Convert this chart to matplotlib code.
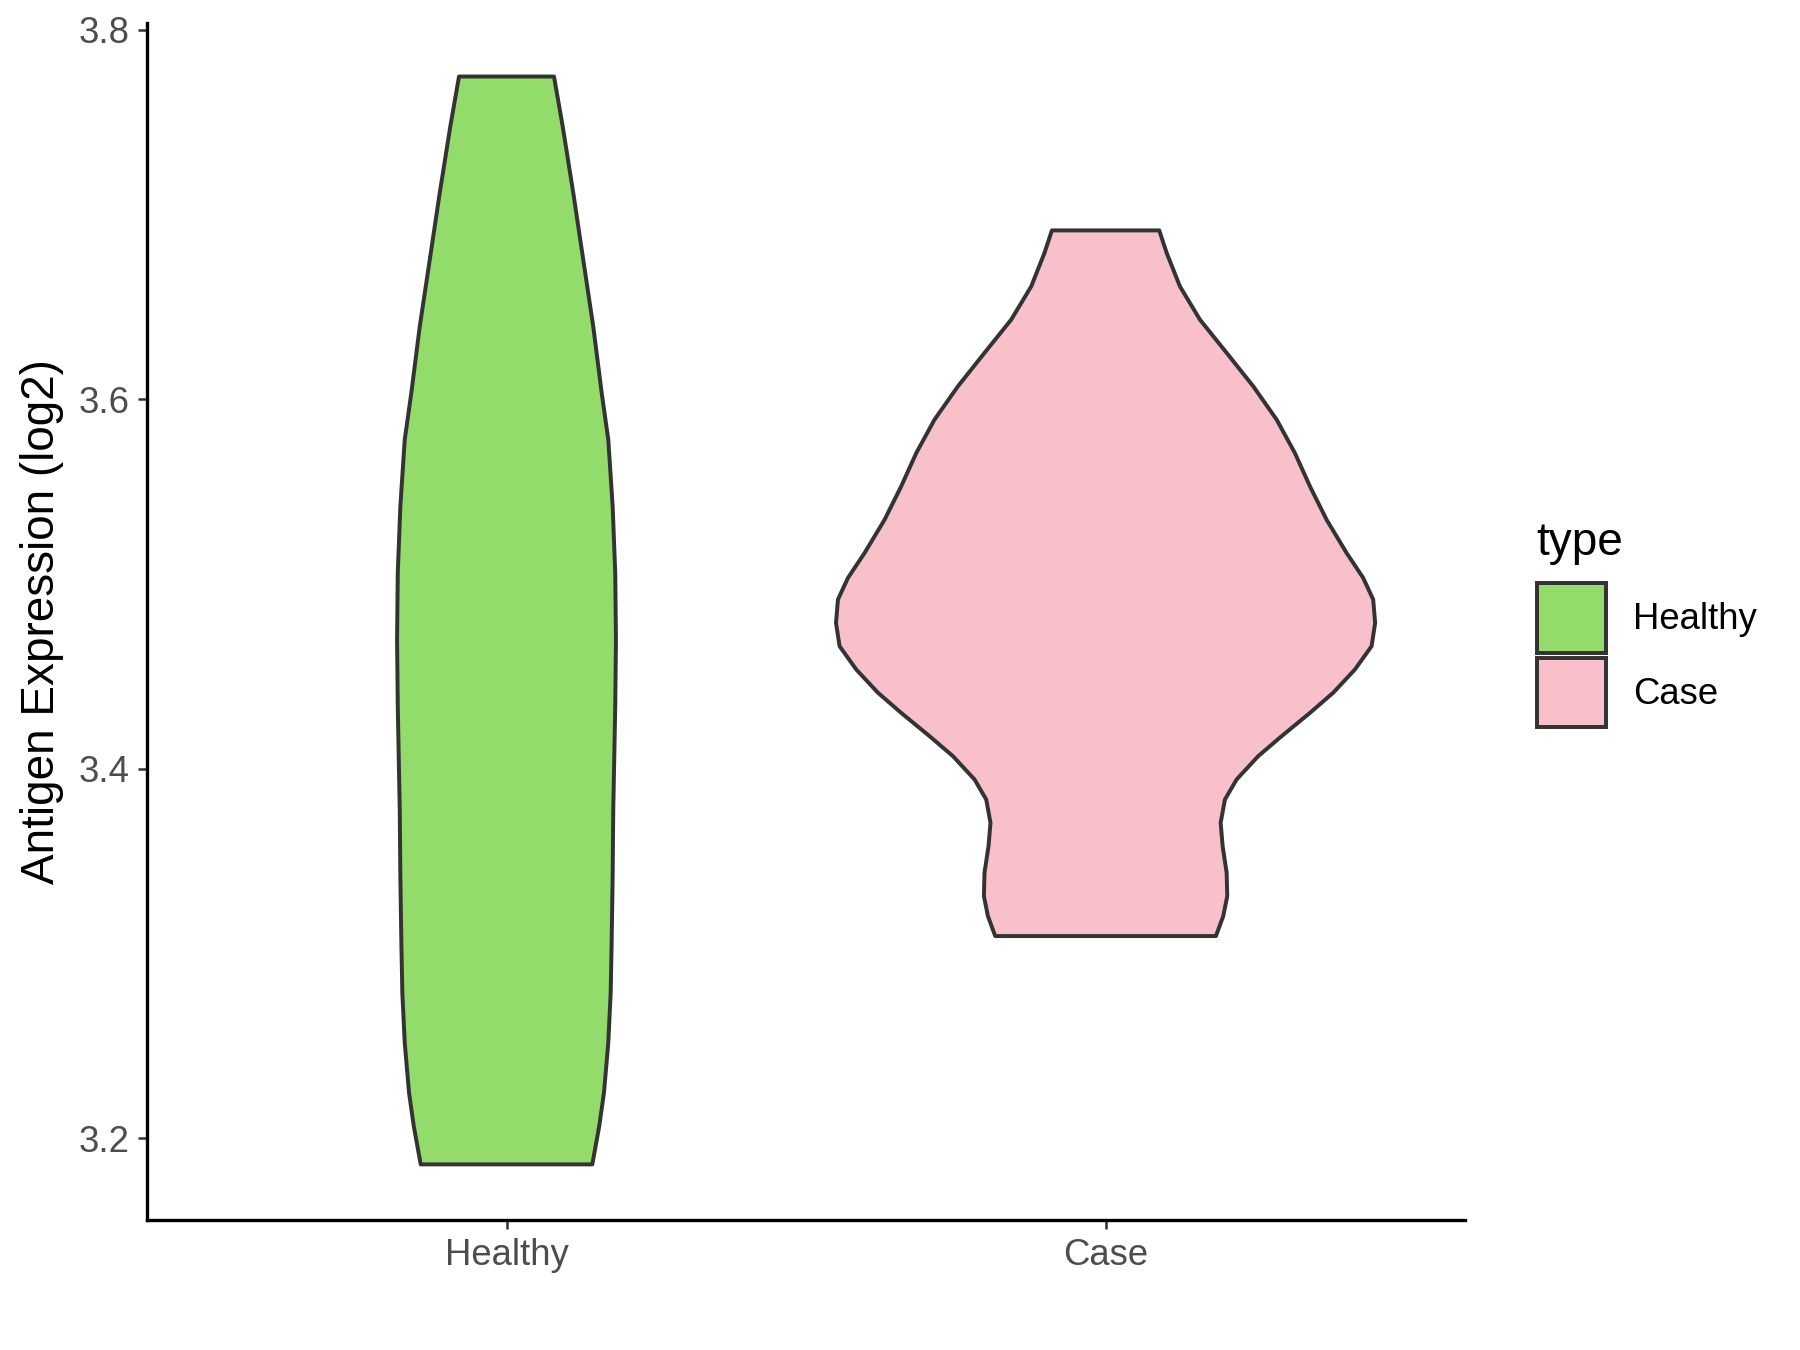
import matplotlib
matplotlib.use("Agg")
import matplotlib.pyplot as plt
from matplotlib.patches import Patch
import numpy as np

plt.rcParams['font.family'] = ['Liberation Sans', 'DejaVu Sans']

# groups and their colours
groups = ["Healthy", "Case"]
fills = ["#93DB6A", "#F7C0CB"]

# violin outlines: y level and half-width (x units)
healthy_y = [3.7747, 3.7477, 3.7116, 3.6755, 3.6394, 3.6034, 3.5781, 3.5420,
             3.5060, 3.4699, 3.4338, 3.3978, 3.3779, 3.3418, 3.3058, 3.2787,
             3.2517, 3.2246, 3.2065, 3.1858]
healthy_hw = [0.0793, 0.0938, 0.1115, 0.1281, 0.1448, 0.1589, 0.1699, 0.1772,
              0.1815, 0.1827, 0.1815, 0.1794, 0.1782, 0.1772, 0.1755, 0.1739,
              0.1699, 0.1627, 0.1548, 0.1432]

case_y = [3.6914, 3.6792, 3.6611, 3.6431, 3.6251, 3.6070, 3.5890, 3.5709,
          3.5529, 3.5348, 3.5168, 3.5033, 3.4916, 3.4789, 3.4663, 3.4537,
          3.4411, 3.4302, 3.4176, 3.4068, 3.3942, 3.3833, 3.3707, 3.3581,
          3.3437, 3.3310, 3.3202, 3.3094]
case_hw = [0.0896, 0.1020, 0.1241, 0.1575, 0.2021, 0.2465, 0.2855, 0.3160,
           0.3411, 0.3689, 0.4023, 0.4300, 0.4467, 0.4500, 0.4440, 0.4162,
           0.3799, 0.3411, 0.2938, 0.2548, 0.2188, 0.1992, 0.1921, 0.1954,
           0.2021, 0.2031, 0.1964, 0.1842]

yticks = [3.2, 3.4, 3.6, 3.8]

fig = plt.figure(figsize=(12, 9), dpi=150)
ax = fig.add_axes([0.0817, 0.0963, 0.7322, 0.8867])

outlines = [(healthy_y, healthy_hw), (case_y, case_hw)]
for i, (ys, hw) in enumerate(outlines):
    pos = i + 1
    ys = np.array(ys)
    hw = np.array(hw)
    xs = np.concatenate([pos + hw, (pos - hw)[::-1]])
    yy = np.concatenate([ys, ys[::-1]])
    ax.fill(xs, yy, facecolor=fills[i], edgecolor="#333333", linewidth=1.9,
            joinstyle="round")

ax.set_xlim(0.4, 2.6)
ax.set_ylim(3.1557, 3.8037)
ax.set_xticks([1, 2])
ax.set_xticklabels(groups)
ax.set_yticks(yticks)
ax.set_yticklabels([f"{v:.1f}" for v in yticks])

for side in ["top", "right"]:
    ax.spines[side].set_visible(False)
for side in ["left", "bottom"]:
    ax.spines[side].set_linewidth(1.6)
    ax.spines[side].set_color("black")
ax.tick_params(length=4.5, width=1.2, color="#333333", labelcolor="#4D4D4D",
               labelsize=17.5, pad=4)

ax.set_ylabel("Antigen Expression (log2)", fontsize=22, color="black", labelpad=7)

handles = [Patch(facecolor=fills[i], edgecolor="#333333", linewidth=1.9, label=g)
           for i, g in enumerate(groups)]
leg = fig.legend(handles=handles, loc="upper left",
                 bbox_to_anchor=(0.8537, 0.5679), frameon=False, fontsize=17.5,
                 handlelength=1.9, handleheight=2.57, labelspacing=0.12,
                 handletextpad=0.75, borderpad=0, borderaxespad=0)
fig.text(0.8537, 1 - 555 / 1350, "type", fontsize=22, ha="left", va="baseline")

fig.savefig("out.png", dpi=150)
